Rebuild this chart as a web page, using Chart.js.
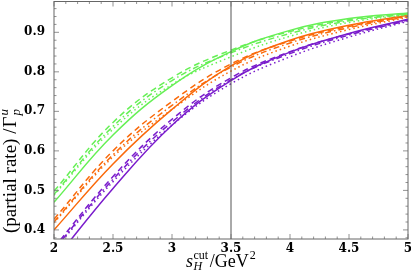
<!DOCTYPE html>
<html>
<head>
<meta charset="utf-8">
<script src="https://cdn.jsdelivr.net/npm/chart.js@4"></script>
<style>
  html, body { margin: 0; padding: 0; background: #fff; }
  #wrap { width: 411px; height: 271px; }
</style>
</head>
<body>
<div id="wrap"><canvas id="chart" width="411" height="271"></canvas></div>
<script>
// s_H^cut values (GeV^2)
const sCut = [2, 2.5, 3, 3.5, 4, 4.5, 5];

// green curves
const greenSolid   = [0.470, 0.640, 0.765, 0.851, 0.905, 0.935, 0.949];
const greenDashed  = [0.498, 0.672, 0.785, 0.855, 0.902, 0.932, 0.947];
const greenDashDot = [0.490, 0.662, 0.778, 0.848, 0.897, 0.929, 0.946];
const greenDotted  = [0.488, 0.655, 0.768, 0.838, 0.890, 0.925, 0.945];

// orange curves
const orangeSolid   = [0.400, 0.567, 0.705, 0.815, 0.880, 0.918, 0.943];
const orangeDashed  = [0.427, 0.600, 0.725, 0.820, 0.878, 0.915, 0.941];
const orangeDashDot = [0.420, 0.590, 0.715, 0.812, 0.873, 0.912, 0.940];
const orangeDotted  = [0.418, 0.585, 0.705, 0.802, 0.865, 0.907, 0.938];

// purple curves
const purpleSolid   = [0.322, 0.505, 0.665, 0.778, 0.850, 0.897, 0.933];
const purpleDashed  = [0.355, 0.535, 0.680, 0.785, 0.851, 0.896, 0.931];
const purpleDashDot = [0.350, 0.528, 0.673, 0.780, 0.846, 0.893, 0.930];
const purpleDotted  = [0.348, 0.522, 0.665, 0.770, 0.838, 0.888, 0.928];

const xTicks = [2, 2.5, 3, 3.5, 4, 4.5, 5];
const yTicks = [0.4, 0.5, 0.6, 0.7, 0.8, 0.9];
const cutLine = 3.5;

const GREEN = '#66f055';
const ORANGE = '#fa6a0a';
const PURPLE = '#7a1ccc';

const SOLID = [];
const DASHED = [6, 4];
const DASHDOT = [6, 3, 1.5, 3];
const DOTTED = [1.5, 3];

function series(vals, color, dash){
    return {
        data: sCut.map(function(x, i){ return {x: x, y: vals[i]}; }),
        borderColor: color,
        borderWidth: 1.5,
        borderDash: dash,
        pointRadius: 0,
        fill: false,
        tension: 0.4
    };
}

function noPad(scale){
    scale.paddingTop = 0;
    scale.paddingBottom = 0;
    scale.paddingLeft = 0;
    scale.paddingRight = 0;
}

// frame, inner ticks, cut line and axis titles
const decor = {
    id: 'decor',
    afterDatasetsDraw: function(chart){
        let ctx = chart.ctx;
        let a = chart.chartArea;
        let xs = chart.scales.x, ys = chart.scales.y;
        ctx.save();
        // vertical line at s = 3.5
        let xc = xs.getPixelForValue(cutLine);
        ctx.strokeStyle = '#555';
        ctx.lineWidth = 1;
        ctx.beginPath();
        ctx.moveTo(xc, a.top); ctx.lineTo(xc, a.bottom);
        ctx.stroke();

        ctx.strokeStyle = '#777';
        ctx.lineWidth = 0.8;
        ctx.beginPath();
        // x ticks (major 0.5, minor 0.1)
        for (let k = 0; k <= 30; k++) {
            let v = 2 + k * 0.1;
            let px = xs.getPixelForValue(v);
            let len = (k % 5 === 0) ? 5 : 2.5;
            ctx.moveTo(px, a.bottom); ctx.lineTo(px, a.bottom - len);
            ctx.moveTo(px, a.top); ctx.lineTo(px, a.top + len);
        }
        // y ticks (major 0.1, minor 0.02)
        for (let k = 19; k <= 49; k++) {
            let v = k * 0.02;
            if (v < ys.min || v > ys.max) continue;
            let py = ys.getPixelForValue(v);
            let len = (k % 5 === 0) ? 5 : 2.5;
            ctx.moveTo(a.left, py); ctx.lineTo(a.left + len, py);
            ctx.moveTo(a.right, py); ctx.lineTo(a.right - len, py);
        }
        ctx.stroke();

        // frame
        ctx.strokeStyle = '#666';
        ctx.lineWidth = 1;
        ctx.strokeRect(a.left, a.top, a.right - a.left, a.bottom - a.top);

        ctx.fillStyle = '#000';
        ctx.textBaseline = 'alphabetic';

        // x title: s_H^cut / GeV^2
        let x0 = 186, by = 267;
        ctx.font = 'italic 18px "Liberation Serif"';
        ctx.fillText('s', x0, by);
        let w = ctx.measureText('s').width;
        ctx.font = 'italic 12px "Liberation Serif"';
        ctx.fillText('H', x0 + w + 0.5, by + 3);
        ctx.font = '12px "Liberation Serif"';
        ctx.fillText('cut', x0 + w + 0.5, by - 8);
        let wc = ctx.measureText('cut').width;
        ctx.font = '18px "Liberation Serif"';
        let x1 = x0 + w + wc + 2;
        ctx.fillText('/GeV', x1, by);
        let wg = ctx.measureText('/GeV').width;
        ctx.font = '12px "Liberation Serif"';
        ctx.fillText('2', x1 + wg + 1, by - 8);

        // y title, rotated: (partial rate) / Γ_p^u
        ctx.translate(16, 233);
        ctx.rotate(-Math.PI / 2);
        ctx.font = '19px "Liberation Serif"';
        ctx.fillText('(partial rate) /', 0, 0);
        let wp = ctx.measureText('(partial rate) /').width;
        ctx.fillText('\u0393', wp + 1, 0);
        let wG = ctx.measureText('\u0393').width;
        ctx.font = 'italic 13px "Liberation Serif"';
        ctx.fillText('u', wp + wG + 2, -8);
        ctx.fillText('p', wp + wG + 2, 4);
        ctx.restore();
    }
};

new Chart(document.getElementById('chart'), {
    type: 'line',
    data: {
        datasets: [
            series(greenSolid, GREEN, SOLID),
            series(greenDashed, GREEN, DASHED),
            series(greenDashDot, GREEN, DASHDOT),
            series(greenDotted, GREEN, DOTTED),
            series(orangeSolid, ORANGE, SOLID),
            series(orangeDashed, ORANGE, DASHED),
            series(orangeDashDot, ORANGE, DASHDOT),
            series(orangeDotted, ORANGE, DOTTED),
            series(purpleSolid, PURPLE, SOLID),
            series(purpleDashed, PURPLE, DASHED),
            series(purpleDashDot, PURPLE, DASHDOT),
            series(purpleDotted, PURPLE, DOTTED)
        ]
    },
    options: {
        responsive: false,
        maintainAspectRatio: false,
        animation: false,
        events: [],
        layout: { padding: { top: 1.5, right: 3, left: 0, bottom: 0 } },
        plugins: { legend: { display: false }, tooltip: { enabled: false } },
        scales: {
            x: {
                type: 'linear',
                min: 2, max: 5,
                grid: { display: false, drawTicks: false },
                border: { display: false },
                afterBuildTicks: function(scale){ scale.ticks = xTicks.map(function(v){ return {value: v}; }); },
                afterFit: function(scale){ scale.height = 32; noPad(scale); },
                ticks: {
                    padding: 3,
                    color: '#000',
                    maxRotation: 0,
                    autoSkip: false,
                    font: { family: 'DejaVu Serif', weight: 'bold', size: 12 },
                    callback: function(v){ return String(v); }
                }
            },
            y: {
                type: 'linear',
                min: 0.377, max: 0.978,
                grid: { display: false, drawTicks: false },
                border: { display: false },
                afterBuildTicks: function(scale){ scale.ticks = yTicks.map(function(v){ return {value: v}; }); },
                afterFit: function(scale){ scale.width = 54; noPad(scale); },
                ticks: {
                    padding: 9,
                    color: '#000',
                    autoSkip: false,
                    font: { family: 'DejaVu Serif', weight: 'bold', size: 12 },
                    callback: function(v){ return v.toFixed(1); }
                }
            }
        }
    },
    plugins: [decor]
});
</script>
</body>
</html>
